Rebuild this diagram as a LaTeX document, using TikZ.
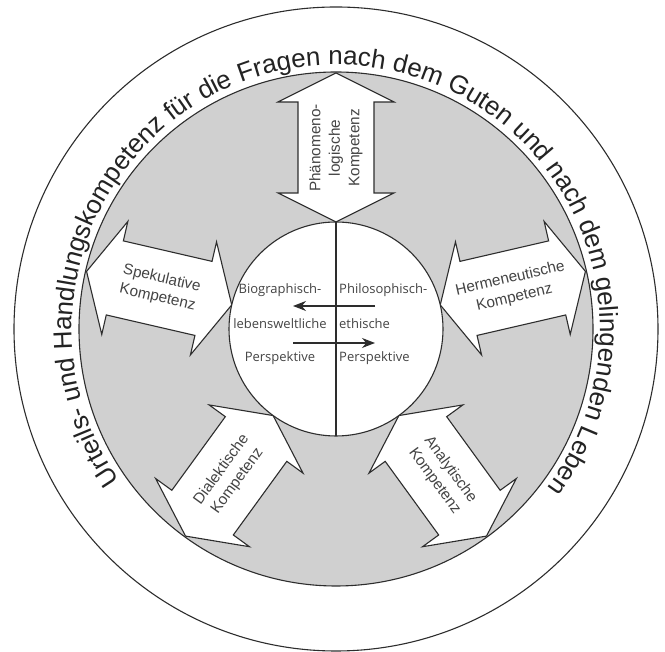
\documentclass[tikz,border=0pt]{standalone}
\usepackage{fontspec}
\setmainfont{Liberation Sans}
\newfontfamily\innerfont{Open Sans}
\usetikzlibrary{decorations.text,arrows.meta}
\definecolor{ringgray}{RGB}{208,208,208}
\definecolor{linec}{RGB}{45,45,45}
\definecolor{textc}{RGB}{35,35,35}
\newcommand{\curvefont}{\fontsize{26}{26}\selectfont\color{textc}}
\begin{document}
\begin{tikzpicture}[x=1pt,y=1pt,
  ring/.style={draw=linec, line width=1.1pt},
  blockarrow/.style={draw=linec, fill=white, line width=1.1pt, line join=miter},
  armlabel/.style={font=\fontsize{15.3}{19.5}\selectfont, text=textc!85!white, align=center, inner sep=0pt},
  perlabel/.style={font=\innerfont\fontsize{13}{16}\selectfont, text=textc!85!white, inner sep=0pt},
  flow/.style={draw=linec, line width=1.2pt, -{Stealth[length=13pt,width=10pt]}}]
\useasboundingbox (0,0) rectangle (665,652);
\coordinate (C) at (336,323);
% rings
\draw[ring, fill=white] (C) circle[radius=322];
\draw[ring, fill=ringgray] (C) circle[radius=257];
% block arrows
\foreach \a in {90,13,167,-54,234} {
  \begin{scope}[shift={(C)}, rotate=\a]
    \draw[blockarrow] (107,0) -- (136,58) -- (136,38) -- (227,38) -- (227,58) -- (256,0)
      -- (227,-58) -- (227,-38) -- (136,-38) -- (136,-58) -- cycle;
  \end{scope}
}
% inner circle
\draw[ring, fill=white] (C) circle[radius=107];
\coordinate (vt) at ([yshift=107pt]C);
\coordinate (vb) at ([yshift=-107pt]C);
\draw[ring] (vt) -- (vb);
% curved text
\path[decorate, decoration={text along path, text align=center,
  text={|\curvefont|Urteils- und Handlungskompetenz für die Fragen nach dem Guten und nach dem gelingenden Leben}}]
  ([shift={(217:264)}]C) arc[start angle=217, end angle=-39, radius=264];
% arm labels
\node[armlabel, rotate=90] (phaen) at ([shift={(90:181)}]C) {Phänomeno-\\logische\\Kompetenz};
\node[armlabel, rotate=-13] (spek) at ([shift={(167:181)}]C) {Spekulative\\Kompetenz};
\node[armlabel, rotate=13] (herm) at ([shift={(13:181)}]C) {Hermeneutische\\Kompetenz};
\node[armlabel, rotate=-54] (anal) at ([shift={(-54:181)}]C) {Analytische\\Kompetenz};
\node[armlabel, rotate=54] (dial) at ([shift={(234:181)}]C) {Dialektische\\Kompetenz};
% perspectives
\node[perlabel] (b1) at (280,362) {Biographisch-};
\node[perlabel] (b2) at (280,328) {lebensweltliche};
\node[perlabel] (b3) at (280,294) {Perspektive};
\node[perlabel, anchor=west] (p1) at (339,362) {Philosophisch-};
\node[perlabel, anchor=west] (p2) at (339,328) {ethische};
\node[perlabel, anchor=west] (p3) at (339,294) {Perspektive};
\coordinate (ua) at (375,346);
\coordinate (ub) at (293,346);
\coordinate (la) at (293,309);
\coordinate (lb) at (375,309);
\draw[flow] (ua) -- (ub);
\draw[flow] (la) -- (lb);
\end{tikzpicture}
\end{document}
